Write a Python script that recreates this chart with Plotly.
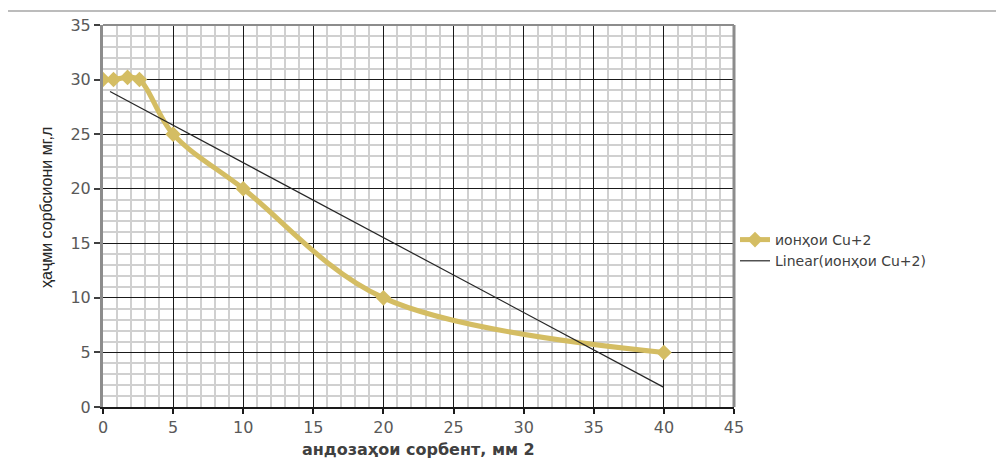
import plotly.graph_objects as go

# data
sorbent_size = [0, 0.75, 1.75, 2.6, 5, 10, 20, 40]
cu_sorption = [30, 30, 30.2, 30, 25, 20, 10, 5]
trend_x = [0.5, 40]
trend_y = [28.9, 1.8]

series_name = "ионҳои Cu+2"
trend_name = "Linear(ионҳои Cu+2)"
x_title = "андозаҳои сорбент, мм 2"
y_title = "ҳаҷми сорбсиони мг,л"

gold = "#D4BD63"
font_main = "DejaVu Sans, sans-serif"

fig = go.Figure()
fig.add_trace(go.Scatter(
    x=sorbent_size, y=cu_sorption, name=series_name,
    mode="lines+markers",
    line=dict(color=gold, width=5, shape="spline", smoothing=1.0),
    marker=dict(symbol="diamond", size=12, color=gold),
))
fig.add_trace(go.Scatter(
    x=trend_x, y=trend_y, name=trend_name, mode="lines",
    line=dict(color="#262626", width=1.2),
))

OFF = 8  # page body offset in the screenshot
W, H = 1004, 463
# target plot area in screenshot pixels
PX0, PX1, PY0, PY1 = 103, 734, 25, 407
L = PX0 - OFF
T = PY0 - OFF
R = W - L - (PX1 - PX0)
B = H - T - (PY1 - PY0)
pw, ph = PX1 - PX0, PY1 - PY0

def px(xp):
    return (xp - PX0) / pw

def py(yp):
    return (PY1 - yp) / ph

fig.update_layout(
    width=W, height=H,
    margin=dict(l=L, r=R, t=T, b=B, autoexpand=False),
    paper_bgcolor="white", plot_bgcolor="white",
    font=dict(family=font_main, size=15, color="#595959"),
    showlegend=True,
    legend=dict(x=px(735), y=py(224), xanchor="left", yanchor="top",
                font=dict(size=14, color="#404040", family=font_main), tracegroupgap=0,
                itemwidth=30, bgcolor="rgba(0,0,0,0)"),
    xaxis=dict(
        range=[0, 45], dtick=5, tick0=0, automargin=False,
        showgrid=True, gridcolor="#1a1a1a", gridwidth=1.3,
        minor=dict(dtick=1, showgrid=True, gridcolor="#d0d0d0", gridwidth=2),
        showline=True, linecolor="#1a1a1a", linewidth=1.5, mirror=False,
        ticks="outside", ticklen=5, tickcolor="#1a1a1a", tickwidth=1.5,
        zeroline=False,
        tickfont=dict(size=16, color="#595959"),
    ),
    yaxis=dict(
        range=[0, 35], dtick=5, tick0=0, automargin=False,
        showgrid=True, gridcolor="#1a1a1a", gridwidth=1.3,
        minor=dict(dtick=1, showgrid=True, gridcolor="#d0d0d0", gridwidth=2),
        showline=True, linecolor="#8c8c8c", linewidth=3, mirror=False,
        ticks="outside", ticklen=6, tickcolor="#404040", tickwidth=1.5,
        zeroline=False,
        tickfont=dict(size=16, color="#595959"),
    ),
    annotations=[
        dict(text="<b>" + x_title + "</b>", xref="paper", yref="paper",
             x=px(418), y=py(450), xanchor="center", yanchor="middle", showarrow=False,
             font=dict(size=16, color="#404040", family=font_main)),
        dict(text=y_title, xref="paper", yref="paper", textangle=-90,
             x=px(46), y=py(208), xanchor="center", yanchor="middle", showarrow=False,
             font=dict(size=16, color="#262626",
                       family="Liberation Sans Narrow, Liberation Sans, sans-serif")),
    ],
    shapes=[
        # plot area border right / top
        dict(type="line", xref="paper", yref="paper", x0=1, x1=1, y0=0, y1=1,
             line=dict(color="#8c8c8c", width=3)),
        dict(type="line", xref="paper", yref="paper", x0=0, x1=1, y0=1, y1=1,
             line=dict(color="#8c8c8c", width=2)),
        # outer chart frame
        dict(type="line", xref="paper", yref="paper", x0=px(6), x1=px(1004), y0=py(11), y1=py(11),
             line=dict(color="#a6a6a6", width=1.5)),
        dict(type="line", xref="paper", yref="paper", x0=px(7), x1=px(7), y0=py(11), y1=py(463),
             line=dict(color="#a6a6a6", width=1.5)),
    ],
)

fig.write_html("out.html")
